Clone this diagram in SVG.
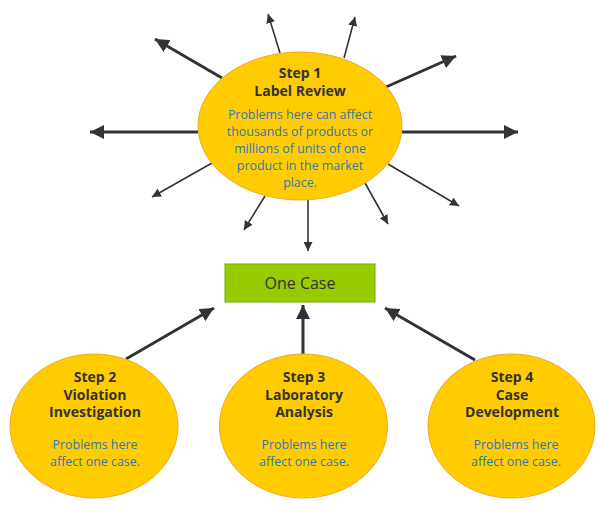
<svg xmlns="http://www.w3.org/2000/svg" width="599" height="511" viewBox="0 0 599 511">
<style>
.node ellipse{fill:#ffcc00;stroke:#f5a623;stroke-width:1}
.t{font-family:"Open Sans","Liberation Sans",Arial,sans-serif;font-size:14px;font-weight:bold;fill:#333;text-anchor:middle}
.b{font-family:"Open Sans","Liberation Sans",Arial,sans-serif;font-size:12.4px;fill:#2f78b8;text-anchor:middle}
.thick{stroke:#333;stroke-width:3;fill:none;marker-end:url(#hb)}
.thin{stroke:#333;stroke-width:1.6;fill:none;marker-end:url(#hs)}
</style>
<defs>
<marker id="hb" viewBox="0 0 10 10" refX="10" refY="5" markerWidth="14" markerHeight="14" markerUnits="userSpaceOnUse" orient="auto"><path d="M0,0L10,5L0,10z" fill="#333"/></marker>
<marker id="hs" viewBox="0 0 10 10" refX="10" refY="5" markerWidth="9" markerHeight="9" markerUnits="userSpaceOnUse" orient="auto"><path d="M0,0L10,5L0,10z" fill="#333"/></marker>
</defs>
<g id="connectors">
<line class="thick" x1="198" y1="132" x2="90" y2="132"/>
<line class="thick" x1="402" y1="132" x2="518" y2="132"/>
<line class="thick" x1="222" y1="78" x2="155" y2="39"/>
<line class="thin" x1="280" y1="53" x2="268" y2="14"/>
<line class="thin" x1="344" y1="58" x2="355" y2="17"/>
<line class="thick" x1="386" y1="87" x2="456" y2="56"/>
<line class="thin" x1="212" y1="163" x2="152" y2="197"/>
<line class="thin" x1="265" y1="196" x2="244" y2="230"/>
<line class="thin" x1="308" y1="200" x2="308" y2="251"/>
<line class="thin" x1="365" y1="183" x2="388" y2="224"/>
<line class="thin" x1="388" y1="164" x2="459" y2="206"/>
<line class="thick" x1="126" y1="359" x2="214" y2="308"/>
<line class="thick" x1="303" y1="355" x2="303" y2="305"/>
<line class="thick" x1="475" y1="360" x2="385" y2="308"/>
</g>
<g id="step1" class="node">
<ellipse cx="300" cy="126" rx="102" ry="74"/>
<text class="t" x="300" y="78">Step 1</text>
<text class="t" x="300" y="96">Label Review</text>
<text class="b" x="300" y="119">Problems here can affect</text>
<text class="b" x="300" y="136">thousands of products or</text>
<text class="b" x="300" y="153">millions of units of one</text>
<text class="b" x="300" y="170">product in the market</text>
<text class="b" x="300" y="187">place.</text>
</g>
<g id="onecase" class="node">
<rect x="225" y="264" width="150" height="38" fill="#99cc00" stroke="#7aa800" stroke-width="1"/>
<text x="300" y="289" font-family="'Open Sans','Liberation Sans',Arial,sans-serif" font-size="16" fill="#333" text-anchor="middle">One Case</text>
</g>
<g id="step2" class="node">
<ellipse cx="94" cy="426" rx="84" ry="72"/>
<text class="t" x="95" y="382">Step 2</text>
<text class="t" x="95" y="399.5">Violation</text>
<text class="t" x="95" y="417">Investigation</text>
<text class="b" x="95" y="449">Problems here</text>
<text class="b" x="95" y="466">affect one case.</text>
</g>
<g id="step3" class="node">
<ellipse cx="303.5" cy="426" rx="84" ry="72"/>
<text class="t" x="304" y="382">Step 3</text>
<text class="t" x="304" y="399.5">Laboratory</text>
<text class="t" x="304" y="417">Analysis</text>
<text class="b" x="304" y="449">Problems here</text>
<text class="b" x="304" y="466">affect one case.</text>
</g>
<g id="step4" class="node">
<ellipse cx="511.5" cy="426" rx="83.5" ry="72"/>
<text class="t" x="512" y="382">Step 4</text>
<text class="t" x="512" y="399.5">Case</text>
<text class="t" x="512" y="417">Development</text>
<text class="b" x="516" y="449">Problems here</text>
<text class="b" x="516" y="466">affect one case.</text>
</g>
</svg>
